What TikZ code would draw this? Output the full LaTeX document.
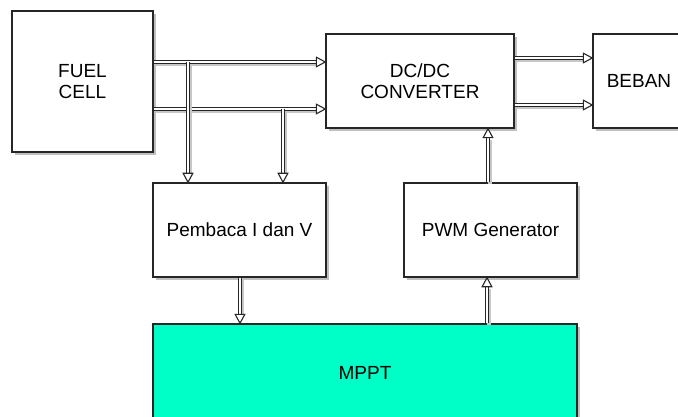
\documentclass[tikz,border=0pt]{standalone}
\usepackage{fontspec}
\setmainfont{Liberation Sans}
\usetikzlibrary{calc,shadows}
\definecolor{mint}{RGB}{0,255,198}
\tikzset{
  block/.style={draw=black!85, line width=1.4pt, fill=white, align=center,
    font=\fontsize{19}{21.5}\selectfont, inner sep=0pt,
    drop shadow={shadow xshift=3pt, shadow yshift=-3pt, fill=black!25, opacity=1}},
  shaft/.style={draw=black!85, line width=1.1pt, double=white, double distance=2.4pt},
  shaftshadow/.style={draw=black!22, line width=4.6pt},
  tiphead/.style={draw=black!85, fill=white, line width=1.1pt, line join=miter}
}
% double-line connector with an open triangular head and a soft shadow
\newcommand{\linkarrow}[2]{%
  \path (#1) coordinate (la) (#2) coordinate (lb);
  \coordinate (lbase) at ($(lb)!9pt!(la)$);
  \draw[shaftshadow] ([xshift=2pt,yshift=-2pt]la) -- ([xshift=2pt,yshift=-2pt]lbase);
  \draw[shaft] (la) -- (lbase);
  \draw[tiphead] (lb) -- ($(lbase)!4.8pt!90:(lb)$) -- ($(lbase)!4.8pt!-90:(lb)$) -- cycle;
}
\begin{document}
\begin{tikzpicture}[x=1pt, y=-1pt]
  \clip (0,0) rectangle (678,417);
  \fill[white] (0,0) rectangle (678,417);

  % blocks
  \node[block, minimum width=141pt, minimum height=141pt] (fuel) at (82.5,81.5) {FUEL\\CELL};
  \node[block, minimum width=188pt, minimum height=94pt] (conv) at (420,81) {DC/DC\\CONVERTER};
  \node[block, minimum width=92pt, minimum height=94pt] (beban) at (639,81) {BEBAN};
  \node[block, minimum width=173pt, minimum height=94pt] (baca) at (239.5,230) {Pembaca I dan V};
  \node[block, minimum width=173pt, minimum height=94pt] (pwm) at (490.5,230) {PWM Generator};
  \node[block, fill=mint, minimum width=424pt, minimum height=98pt] (mppt) at (365,373) {MPPT};

  % branch points on the two supply lines
  \coordinate (j1) at (188,62);
  \coordinate (j2) at (283,109);

  % fuel cell to converter
  \linkarrow{fuel.east |- 0,62}{conv.west |- 0,62}
  \linkarrow{fuel.east |- 0,109}{conv.west |- 0,109}

  % converter to load
  \linkarrow{conv.east |- 0,58}{beban.west |- 0,58}
  \linkarrow{conv.east |- 0,105}{beban.west |- 0,105}

  % sensing taps
  \linkarrow{j1}{j1 |- baca.north}
  \linkarrow{j2}{j2 |- baca.north}

  % control path
  \linkarrow{baca.south -| 240,0}{mppt.north -| 240,0}
  \linkarrow{mppt.north -| 487,0}{pwm.south -| 487,0}
  \linkarrow{pwm.north -| 488,0}{conv.south -| 488,0}
\end{tikzpicture}
\end{document}
